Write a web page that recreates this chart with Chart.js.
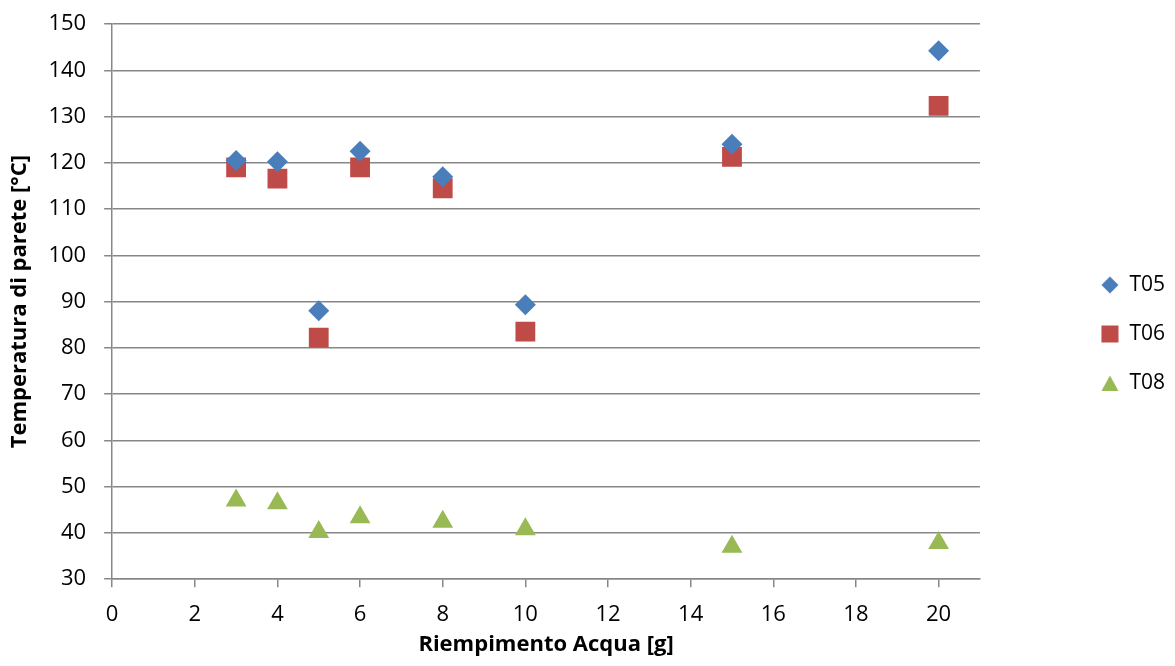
<!DOCTYPE html>
<html>
<head>
<meta charset="utf-8">
<script src="https://cdn.jsdelivr.net/npm/chart.js@4.4.0/dist/chart.umd.min.js"></script>
<style>
  html, body { margin: 0; padding: 0; background: #fff; }
  #wrap { width: 1175px; height: 666px; }
</style>
</head>
<body>
<div id="wrap"><canvas id="grafico"></canvas></div>
<script>
// riempimento acqua [g]
var riempimento = [3, 4, 5, 6, 8, 10, 15, 20];
var t05 = [120.5, 120.2, 88.0, 122.5, 117.0, 89.3, 124.0, 144.2];
var t06 = [119.0, 116.6, 82.2, 119.0, 114.5, 83.5, 121.3, 132.3];
var t08 = [47.0, 46.4, 40.2, 43.4, 42.4, 40.8, 37.0, 37.8];
var yTicks = [30, 40, 50, 60, 70, 80, 90, 100, 110, 120, 130, 140, 150];

var colori = ["#4a7ebb", "#be4b48", "#98b954"];

function punti(vals) {
    return riempimento.map(function (x, i) { return { x: x, y: vals[i] }; });
}

// icone della legenda, un po' piu grandi del default
function icona(stile, colore) {
    var c = document.createElement("canvas");
    c.width = 18; c.height = 18;
    var g = c.getContext("2d");
    g.fillStyle = colore;
    g.beginPath();
    if (stile === "rectRot") {
        g.moveTo(9, 0.5); g.lineTo(17.5, 9); g.lineTo(9, 17.5); g.lineTo(0.5, 9);
    } else if (stile === "rect") {
        g.rect(0.5, 0.5, 17, 17);
    } else {
        g.moveTo(9, 1.5); g.lineTo(17.5, 17); g.lineTo(0.5, 17);
    }
    g.closePath();
    g.fill();
    return c;
}

// legenda un filo piu in basso, come in Excel
var spostaLegenda = {
    id: "spostaLegenda",
    afterLayout: function (chart) {
        chart.legend.top += 5;
        chart.legend.bottom += 5;
    }
};

var gridColor = "#878787";
var font = "'Open Sans', 'Liberation Sans', sans-serif";

let ctx = document.getElementById("grafico").getContext("2d");
let chart = new Chart(ctx, {
    type: "scatter",
    data: {
        datasets: [{
            label: "T05",
            data: punti(t05),
            pointStyle: "rectRot",
            pointRadius: 10.5,
            pointHoverRadius: 10.5,
            backgroundColor: colori[0],
            borderColor: colori[0],
            borderWidth: 0
        }, {
            label: "T06",
            data: punti(t06),
            pointStyle: "rect",
            pointRadius: 14,
            pointHoverRadius: 14,
            backgroundColor: colori[1],
            borderColor: colori[1],
            borderWidth: 0
        }, {
            label: "T08",
            data: punti(t08),
            pointStyle: "triangle",
            pointRadius: 12,
            pointHoverRadius: 12,
            backgroundColor: colori[2],
            borderColor: colori[2],
            borderWidth: 0
        }]
    },
    plugins: [spostaLegenda],
    options: {
        responsive: true,
        maintainAspectRatio: false,
        animation: false,
        layout: { padding: { top: 0, left: 7, right: 0, bottom: 8 } },
        plugins: {
            tooltip: { enabled: false },
            legend: {
                position: "right",
                labels: {
                    usePointStyle: true,
                    boxWidth: 18,
                    boxHeight: 18,
                    padding: 28,
                    color: "#000",
                    font: { family: font, size: 21 },
                    generateLabels: function (chart) {
                        var items = Chart.defaults.plugins.legend.labels.generateLabels(chart);
                        items.forEach(function (it, i) {
                            it.pointStyle = icona(chart.data.datasets[i].pointStyle, colori[i]);
                        });
                        return items;
                    }
                }
            }
        },
        scales: {
            x: {
                type: "linear",
                min: 0,
                max: 21,
                afterBuildTicks: function (scale) {
                    scale.ticks = scale.ticks.filter(function (t) { return t.value % 2 === 0; });
                },
                ticks: { stepSize: 2, color: "#000", padding: 14, font: { family: font, size: 22 } },
                grid: { drawOnChartArea: false, drawTicks: true, tickLength: 8, color: gridColor, lineWidth: 1.5 },
                border: { display: true, color: gridColor, width: 1.5 },
                title: {
                    display: true,
                    text: "Riempimento Acqua [g]",
                    color: "#000",
                    padding: { top: -10, bottom: 0 },
                    font: { family: font, size: 22, weight: "bold" }
                }
            },
            y: {
                min: 30,
                max: 150,
                afterBuildTicks: function (scale) {
                    scale.ticks = yTicks.map(function (v) { return { value: v }; });
                },
                afterFit: function (scale) { scale.paddingTop = 24; },
                ticks: { color: "#000", padding: 18, font: { family: font, size: 22 } },
                grid: { color: gridColor, lineWidth: 1.5, tickLength: 8 },
                border: { display: true, color: gridColor, width: 1.5 },
                title: {
                    display: true,
                    text: "Temperatura di parete [°C]",
                    color: "#000",
                    padding: { top: 0, bottom: -3 },
                    font: { family: font, size: 22, weight: "bold" }
                }
            },
            spazio: {
                position: "right",
                display: true,
                ticks: { display: false },
                grid: { display: false },
                border: { display: false },
                afterFit: function (scale) { scale.width = 93; }
            }
        }
    }
});
</script>
</body>
</html>
